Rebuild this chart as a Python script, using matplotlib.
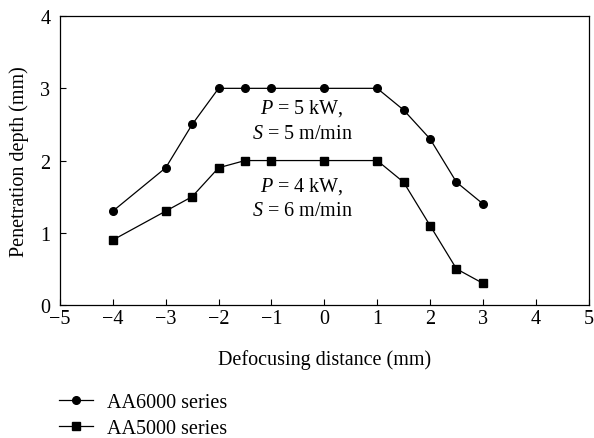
import matplotlib
matplotlib.use("Agg")
import matplotlib.pyplot as plt

plt.rcParams['font.family'] = ['Liberation Serif', 'DejaVu Serif']
plt.rcParams['mathtext.fontset'] = 'custom'
plt.rcParams['mathtext.rm'] = 'Liberation Serif'
plt.rcParams['mathtext.it'] = 'Liberation Serif:italic'

x_vals = [-4, -3, -2.5, -2, -1.5, -1, 0, 1, 1.5, 2, 2.5, 3]
aa6000 = [1.3, 1.9, 2.5, 3.0, 3.0, 3.0, 3.0, 3.0, 2.7, 2.3, 1.7, 1.4]
aa5000 = [0.9, 1.3, 1.5, 1.9, 2.0, 2.0, 2.0, 2.0, 1.7, 1.1, 0.5, 0.3]
xticks = [-5, -4, -3, -2, -1, 0, 1, 2, 3, 4, 5]
yticks = [0, 1, 2, 3, 4]

FS = 14.5

fig = plt.figure(figsize=(5.94, 4.39), dpi=100)
ax = fig.add_axes([0.101, 0.303, 0.890, 0.658])

l1, = ax.plot(x_vals, aa6000, color='black', lw=0.9, marker='o', ms=5.5, label='AA6000 series')
l2, = ax.plot(x_vals, aa5000, color='black', lw=0.9, marker='s', ms=5.5, label='AA5000 series')

ax.set_xlim(-5, 5)
ax.set_ylim(0, 4)
ax.set_xticks(xticks)
ax.set_yticks(yticks)
ax.tick_params(direction='in', length=4, width=0.8, labelsize=FS, pad=3)
ax.tick_params(axis='y', pad=7)
for s in ax.spines.values():
    s.set_linewidth(0.9)

ax.set_xlabel('Defocusing distance (mm)', fontsize=FS, labelpad=15)
ax.set_ylabel('Penetration depth (mm)', fontsize=FS, labelpad=8)

ax.text(-0.42, 2.56, '$P$ = 5 kW,\n$S$ = 5 m/min', ha='center', va='center',
        fontsize=FS, linespacing=1.4)
ax.text(-0.42, 1.49, '$P$ = 4 kW,\n$S$ = 6 m/min', ha='center', va='center',
        fontsize=FS, linespacing=1.4)

fig.legend(handles=[l1, l2], loc='center left', bbox_to_anchor=(0.1, 0.052),
           bbox_transform=fig.transFigure, frameon=False, fontsize=FS,
           handlelength=1.65, handletextpad=0.7, labelspacing=0.35,
           borderaxespad=0, borderpad=0)
fig.savefig('out.png', dpi=100)
